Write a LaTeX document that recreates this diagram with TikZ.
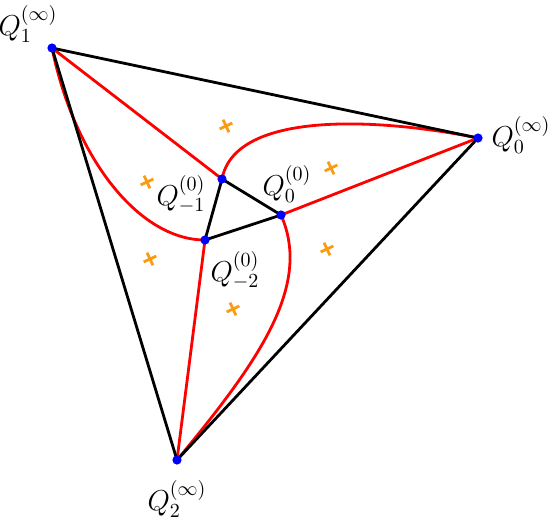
\documentclass[tikz,border=0pt]{standalone}
\begin{document}
\begin{tikzpicture}[x=0.5pt,y=-0.5pt,
  edge/.style={line width=1.4pt},
  redge/.style={line width=1.4pt,red},
  dot/.style={circle,fill=blue,inner sep=0pt,minimum size=4.6pt},
  lbl/.style={font=\fontsize{14}{16}\selectfont,inner sep=0pt}]
\definecolor{crosscol}{RGB}{250,155,20}
\tikzset{crs/.style={draw=crosscol,line width=1.4pt}}
\useasboundingbox (0,0) rectangle (551,526);
\coordinate (A) at (52,48);
\coordinate (B) at (478,138);
\coordinate (C) at (177,460);
\coordinate (P) at (222,179);
\coordinate (R) at (281,215);
\coordinate (S) at (205,240);
% red curves
\draw[redge] (A) -- (P);
\draw[redge] (A) .. controls (75,160) and (140,240) .. (S);
\draw[redge] (P) .. controls (235,110) and (380,118) .. (B);
\draw[redge] (B) -- (R);
\draw[redge] (R) .. controls (312,285) and (260,360) .. (C);
\draw[redge] (C) -- (S);
% black triangles
\draw[edge] (A) -- (B) -- (C) -- cycle;
\draw[edge] (P) -- (R) -- (S) -- cycle;
% dots
\foreach \p in {A,B,C,P,R,S} \node[dot] at (\p) {};
% crosses
\foreach \x/\y in {226/126,147/182,331/168,150/259,327/249,233/309}
  \draw[crs,shift={(\x,\y)},rotate=25] (-7,0) -- (7,0) (0,-7) -- (0,7);
% labels
\node[lbl] (lA) at (28,24) {$Q_1^{(\infty)}$};
\node[lbl] (lB) at (521,135) {$Q_0^{(\infty)}$};
\node[lbl] (lC) at (177,499) {$Q_2^{(\infty)}$};
\node[lbl] (lP) at (181,194) {$Q_{-1}^{(0)}$};
\node[lbl] (lR) at (287,184) {$Q_0^{(0)}$};
\node[lbl] (lS) at (235,270) {$Q_{-2}^{(0)}$};
\end{tikzpicture}
\end{document}
